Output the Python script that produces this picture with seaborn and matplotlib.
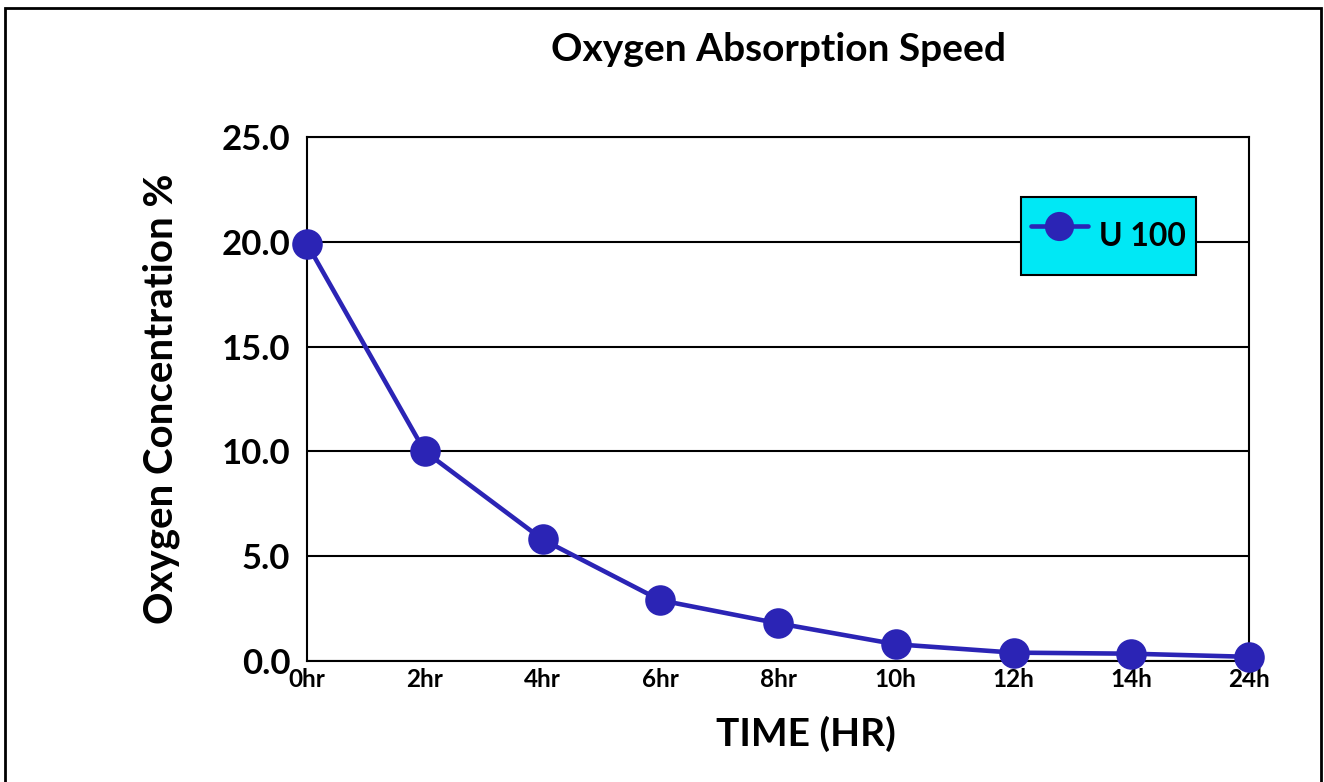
import pandas as pd
import seaborn as sns
import matplotlib.pyplot as plt
from matplotlib.patches import Rectangle

# data
time_labels = ["0hr", "2hr", "4hr", "6hr", "8hr", "10h", "12h", "14h", "24h"]
oxygen_pct = [19.9, 10.0, 5.8, 2.9, 1.8, 0.8, 0.4, 0.35, 0.2]
series_name = "U 100"
y_ticks = [0.0, 5.0, 10.0, 15.0, 20.0, 25.0]

df = pd.DataFrame({"step": range(len(time_labels)), "oxygen": oxygen_pct, "series": series_name})

sns.set_theme(style="white")
plt.rcParams["font.family"] = ["Lato", "DejaVu Sans"]
plt.rcParams["font.weight"] = "bold"
for key in ["text.color", "axes.labelcolor", "xtick.color", "ytick.color"]:
    plt.rcParams[key] = "black"

line_color = "#2B24B5"

fig = plt.figure(figsize=(13.24, 7.82), dpi=100)
ax = fig.add_axes([0.2319, 0.1547, 0.9434 - 0.2319, 0.8248 - 0.1547])

sns.lineplot(data=df, x="step", y="oxygen", hue="series", palette=[line_color],
             marker="o", markersize=22, markeredgewidth=0, linewidth=3.3, ax=ax,
             clip_on=False, zorder=5)

ax.set_xlim(0, len(time_labels) - 1)
ax.set_ylim(0, 25)
ax.set_xticks(range(len(time_labels)))
ax.set_xticklabels(time_labels)
ax.set_yticks(y_ticks)
ax.set_yticklabels([f"{v:.1f}" for v in y_ticks])
ax.tick_params(axis="x", labelsize=17.5, pad=5, length=0)
ax.tick_params(axis="y", labelsize=25, pad=12, length=0)
for lab in ax.get_xticklabels() + ax.get_yticklabels():
    lab.set_fontweight("bold")

# horizontal grid in black
ax.yaxis.grid(True, color="black", linewidth=1.5)
ax.xaxis.grid(False)
for sp in ax.spines.values():
    sp.set_visible(True)
    sp.set_color("black")
    sp.set_linewidth(1.5)

ax.set_title("Oxygen Absorption Speed", fontsize=28, fontweight="bold", pad=55)
ax.set_xlabel("TIME (HR)", fontsize=28, fontweight="bold")
ax.set_ylabel("Oxygen Concentration %", fontsize=29, fontweight="bold")
ax.xaxis.set_label_coords(0.53, -0.105)
ax.yaxis.set_label_coords(-0.135, 0.5)

leg = ax.legend(loc="upper left", bbox_to_anchor=(0.758, 0.8855), frameon=True,
                fancybox=False, prop={"size": 23, "weight": "bold"},
                borderpad=0.3, handlelength=1.8, handleheight=2.45,
                handletextpad=0.35, borderaxespad=0)
leg.get_frame().set_facecolor("#00E8F5")
leg.get_frame().set_edgecolor("black")
leg.get_frame().set_linewidth(1.5)
leg.get_frame().set_alpha(1)
for h in leg.get_lines():
    h.set_markersize(21)
    h.set_linewidth(3.3)

# outer frame around the whole picture
fig.patches.append(Rectangle((5 / 1324, -0.02), 1316 / 1324, 1.02 - 8 / 782,
                             transform=fig.transFigure, fill=False,
                             edgecolor="black", linewidth=2))

fig.savefig("out.png", dpi=100)
